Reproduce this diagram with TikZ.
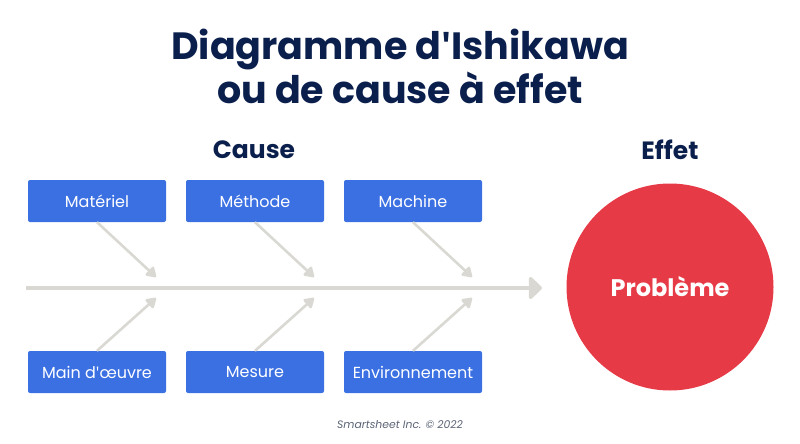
\documentclass[tikz,border=0pt]{standalone}
\usepackage{fontspec}
\setmainfont{Poppins}[Ligatures=NoCommon]
\newfontfamily\aposfont{Open Sans}[Mapping=]
\usetikzlibrary{arrows.meta}
\definecolor{navy}{HTML}{0B1F4D}
\definecolor{boxblue}{HTML}{3B70E3}
\definecolor{spinegray}{HTML}{D9D8D2}
\definecolor{probred}{HTML}{E73A47}
\definecolor{footgray}{HTML}{5A6275}
\newcommand{\apos}{{\aposfont\char"0027}}
\tikzset{
  causebox/.style={fill=boxblue, rounded corners=2pt, minimum width=138pt, minimum height=42pt, inner sep=0pt, text=white, font=\fontsize{16}{18}\selectfont},
  branch/.style={draw=spinegray, line width=2.6pt, -{Triangle[length=11pt,width=13pt,round]}},
  spine/.style={draw=spinegray, line width=4pt, -{Triangle[length=14pt,width=26pt,round]}},
  heading/.style={text=navy, font=\fontsize{25}{28}\selectfont\bfseries},
}
\begin{document}
\begin{tikzpicture}[x=1pt,y=-1pt]
\useasboundingbox (0,0) rectangle (800,444);
\node[text=navy, align=center, font=\fontsize{38}{44}\selectfont\bfseries] (title) at (400,66) {Diagramme d\apos Ishikawa\\ou de cause à effet};
\node[heading] (cause) at (254,150) {Cause};
\node[heading] (effet) at (670,150) {Effet};
\node[causebox] (mat) at (97,201) {Matériel};
\node[causebox] (met) at (255,201) {Méthode};
\node[causebox] (mac) at (413,201) {Machine};
\node[causebox] (mo) at (97,372) {Main d\apos œuvre};
\node[causebox] (mes) at (255,372) {Mesure};
\node[causebox] (env) at (413,372) {Environnement};
\coordinate (s0) at (26,288);
\coordinate (s1) at (542,288);
\draw[spine] (s0) -- (s1);
\coordinate (t1) at (156,277);
\coordinate (t2) at (314,277);
\coordinate (t3) at (472,277);
\coordinate (b1) at (156,298);
\coordinate (b2) at (314,298);
\coordinate (b3) at (472,298);
\draw[branch] (mat.south) -- (t1);
\draw[branch] (met.south) -- (t2);
\draw[branch] (mac.south) -- (t3);
\draw[branch] (mo.north) -- (b1);
\draw[branch] (mes.north) -- (b2);
\draw[branch] (env.north) -- (b3);
\node[circle, fill=probred, minimum size=207pt, inner sep=0pt, text=white, font=\fontsize{24}{27}\selectfont\bfseries] (prob) at (670,287) {Problème};
\node[text=footgray, font=\fontsize{10.8}{13}\selectfont\itshape] (foot) at (400,425) {Smartsheet Inc. © 2022};
\end{tikzpicture}
\end{document}
